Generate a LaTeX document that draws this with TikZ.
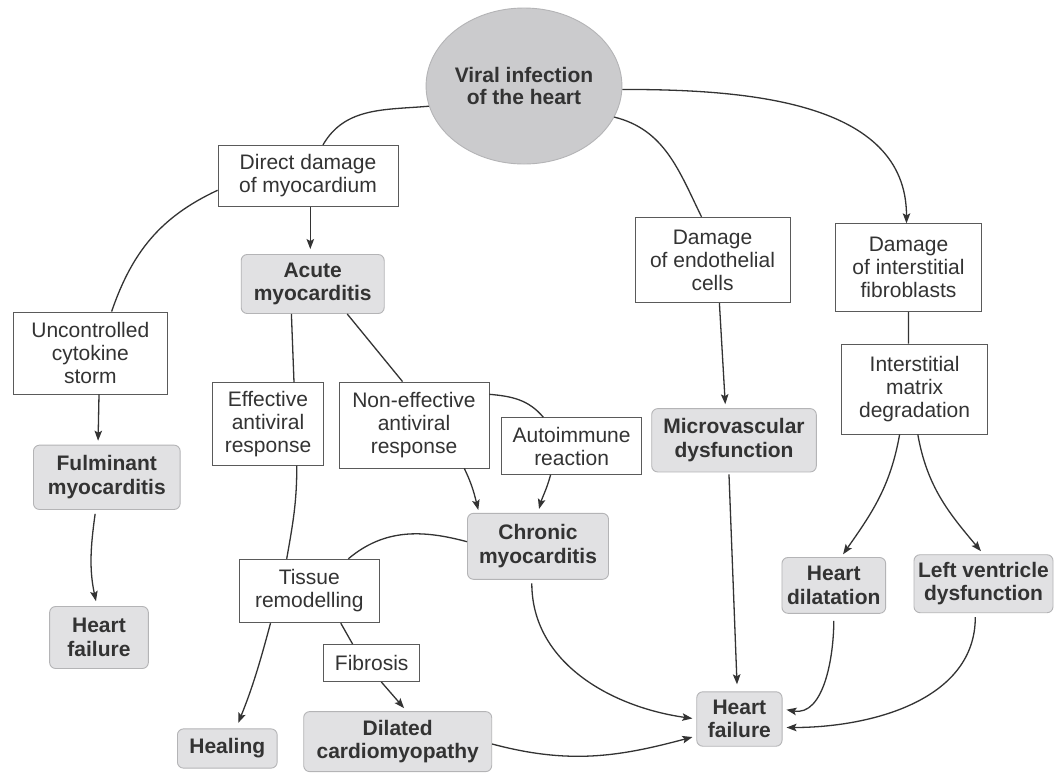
\documentclass[tikz,border=0pt]{standalone}
\usepackage{fontspec}
\setmainfont{Liberation Sans}
\usetikzlibrary{arrows.meta,shapes.geometric}
\definecolor{ink}{HTML}{333333}
\definecolor{circfill}{HTML}{CBCBCD}
\definecolor{boxfill}{HTML}{E1E1E3}
\definecolor{boxline}{HTML}{B4B4B6}
\definecolor{wline}{HTML}{5A5A5A}
\begin{document}
\begin{tikzpicture}[x=1pt,y=1pt,
  every node/.style={font=\fontsize{21}{23}\selectfont, text=ink, align=center, inner sep=0pt},
  sz/.style 2 args={minimum width=#1pt, minimum height=#2pt},
  wbox/.style={draw=wline, line width=0.9pt, fill=white},
  gbox/.style={draw=boxline, line width=0.9pt, fill=boxfill, rounded corners=6pt, font=\fontsize{21}{23.5}\selectfont\bfseries},
  circ/.style={ellipse, draw=boxline, line width=0.9pt, fill=circfill, font=\fontsize{21}{21.5}\selectfont\bfseries},
  conn/.style={draw=ink, line width=1.3pt},
  arr/.style={conn, -{Stealth[length=10pt,width=7.5pt,inset=2pt]}},
]
\fill[white] (0,0) rectangle (1055,-772);
\useasboundingbox (0,0) rectangle (1055,-772);

\node[circ,sz={164}{156}] (viral) at (524,-86) {Viral infection\\of the heart};
\node[wbox,sz={180}{61}] (direct) at (308,-175.8) {Direct damage\\of myocardium};
\node[gbox,sz={143}{59}] (acute) at (312.7,-284) {Acute\\myocarditis};
\node[wbox,sz={153.5}{82}] (storm) at (90.3,-353) {Uncontrolled\\cytokine\\storm};
\node[wbox,sz={111}{82.5}] (eff) at (268,-424) {Effective\\antiviral\\response};
\node[wbox,sz={150}{86}] (noneff) at (414,-425) {Non-effective\\antiviral\\response};
\node[wbox,sz={140}{56.6}] (auto) at (571.6,-446) {Autoimmune\\reaction};
\node[gbox,sz={141}{66}] (chronic) at (538,-546.3) {Chronic\\myocarditis};
\node[gbox,sz={146.7}{64.3}] (fulm) at (106.8,-477.3) {Fulminant\\myocarditis};
\node[gbox,sz={98.7}{62}] (hfl) at (99,-637.5) {Heart\\failure};
\node[wbox,sz={140}{63.5}] (tissue) at (309.3,-591) {Tissue\\remodelling};
\node[wbox,sz={95.6}{37}] (fibrosis) at (371.7,-663) {Fibrosis};
\node[gbox,sz={99.7}{39.2}] (heal) at (227.3,-748.5) {Healing};
\node[gbox,sz={188}{60}] (dcm) at (397.7,-741.6) {Dilated\\cardiomyopathy};
\node[wbox,sz={155}{85.5}] (endo) at (712.5,-260) {Damage\\of endothelial\\cells};
\node[wbox,sz={146.4}{87.6}] (fibro) at (908.5,-267.6) {Damage\\of interstitial\\fibroblasts};
\node[wbox,sz={146.4}{90}] (matrix) at (914.6,-389) {Interstitial\\matrix\\degradation};
\node[gbox,sz={164.6}{63.3}] (micro) at (734,-440.3) {Microvascular\\dysfunction};
\node[gbox,sz={103.7}{55.8}] (hdil) at (833.8,-585.4) {Heart\\dilatation};
\node[gbox,sz={139}{58}] (lv) at (983.5,-583.7) {Left ventricle\\dysfunction};
\node[gbox,sz={85.3}{54.4}] (hfc) at (739.4,-719) {Heart\\failure};

\draw[conn] (viral.192) to[out=185,in=60] ([xshift=15pt]direct.north);
\draw[conn] (viral.-19) to[out=-14,in=116] ([xshift=-11pt]endo.north);
\draw[arr] (viral.-2) to[out=0,in=90] ([xshift=-2pt]fibro.north);
\draw[arr, shorten >=5pt] ([xshift=2.3pt]direct.south) -- ([xshift=-2.4pt]acute.north);
\draw[conn] ([yshift=-14.5pt]direct.west) to[out=205,in=71] ([xshift=21.3pt]storm.north);
\draw[arr, shorten >=4pt] ([xshift=8.7pt]storm.south) -- ([xshift=-8.8pt]fulm.north);
\draw[arr, shorten <=4pt, shorten >=5pt] ([xshift=-11.1pt]fulm.south) to[out=-98,in=102] ([xshift=-2pt]hfl.north);
\draw[conn] ([xshift=-21.3pt]acute.south) -- ([xshift=26pt]eff.north);
\draw[conn] ([xshift=34.5pt]acute.south) -- ([xshift=-11.5pt]noneff.north);
\draw[arr, shorten >=3pt] ([xshift=50.3pt]noneff.south) to[out=-64,in=104] ([xshift=-59pt]chronic.north);
\draw[conn] ([yshift=30.7pt]noneff.east) to[out=-5,in=130] ([xshift=-28.3pt]auto.north);
\draw[arr, shorten >=4pt] ([xshift=-21pt]auto.south) to[out=-105,in=75] (chronic.north);
\draw[conn] ([yshift=4.6pt]chronic.west) to[out=165,in=40] ([xshift=39pt]tissue.north);
\draw[conn] ([xshift=28.8pt]eff.south) to[out=-90,in=80] ([xshift=-22.6pt]tissue.north);
\draw[arr, shorten >=6pt] ([xshift=-38.8pt]tissue.south) to[out=-105,in=68] ([xshift=8.7pt]heal.north);
\draw[conn] ([xshift=31.5pt]tissue.south) -- ([xshift=-19.1pt]fibrosis.north);
\draw[arr, shorten >=4pt] ([xshift=9.6pt]fibrosis.south) -- ([xshift=9pt]dcm.north);
\draw[arr, shorten >=4pt] ([yshift=-2.4pt]dcm.east) to[out=-15,in=195] ([yshift=-17pt]hfc.west);
\draw[arr, shorten <=3.5pt, shorten >=4pt] ([xshift=-6.2pt]chronic.south) to[out=-90,in=172] (hfc.west);
\draw[arr, shorten >=4pt] ([xshift=6.9pt]endo.south) -- ([xshift=-8.5pt]micro.north);
\draw[arr, shorten <=2pt, shorten >=7pt] ([xshift=-5.1pt]micro.south) -- ([xshift=-2.1pt]hfc.north);
\draw[conn] (fibro.south) -- ([xshift=-6.2pt]matrix.north);
\draw[arr, shorten >=3.4pt] ([xshift=-15pt]matrix.south) to[out=-100,in=55] ([xshift=7.3pt]hdil.north);
\draw[arr, shorten >=4pt] ([xshift=3.2pt]matrix.south) to[out=-80,in=130] (lv.north);
\draw[arr, shorten <=7pt, shorten >=4pt] (hdil.south) to[out=-90,in=-10] ([yshift=10pt]hfc.east);
\draw[arr, shorten <=4pt, shorten >=4pt] ([xshift=-8.2pt]lv.south) to[out=-90,in=0] ([yshift=-8.5pt]hfc.east);
\end{tikzpicture}
\end{document}
